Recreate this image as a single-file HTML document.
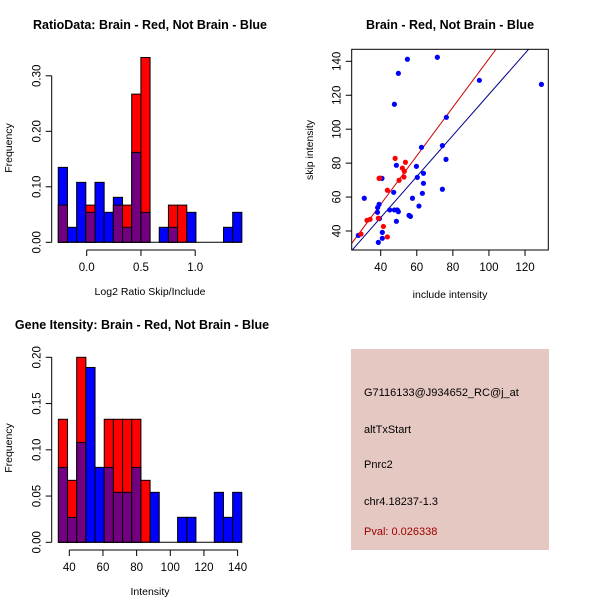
<!DOCTYPE html>
<html><head><meta charset="utf-8">
<style>
html,body{margin:0;padding:0;background:#fff;}
svg{display:block;font-family:"Liberation Sans",sans-serif;}
.t{font-weight:bold;font-size:12.5px;}
.tk{font-size:11.5px;}
.lab{font-size:10.5px;}
</style></head>
<body>
<svg id="c" width="600" height="600" viewBox="0 0 600 600">
<text class="t" x="150" y="29" text-anchor="middle">RatioData: Brain - Red, Not Brain - Blue</text>
<text class="t" x="450" y="29" text-anchor="middle">Brain - Red, Not Brain - Blue</text>
<text class="t" x="142" y="329" text-anchor="middle">Gene Itensity: Brain - Red, Not Brain - Blue</text>
<g>
<rect x="351" y="349" width="198" height="201" fill="#E6C8C2"/>
<text x="364" y="396" font-size="11">G7116133@J934652_RC@j_at</text>
<text x="364" y="433" font-size="11">altTxStart</text>
<text x="364" y="468" font-size="11">Pnrc2</text>
<text x="364" y="505" font-size="11">chr4.18237-1.3</text>
<text x="364" y="535" font-size="11" fill="#A00000">Pval: 0.026338</text>
</g>
</svg>
<script>
// Ratio histogram data
const ratioBreakStart = -0.262;
const ratioBinWidth = 0.0846;
const ratioRed = [0.067,0,0,0.067,0,0,0.067,0.067,0.267,0.333,0,0,0.067,0.067,0,0,0,0,0,0];
const ratioBlue = [0.135,0.027,0.108,0.054,0.108,0.054,0.081,0.027,0.162,0.054,0,0.027,0.027,0,0.054,0,0,0,0.027,0.054];
const ratioXTicks = [0.0,0.5,1.0];
const ratioXTickLabels = ["0.0","0.5","1.0"];
const ratioYTicks = [0,0.1,0.2,0.3];
const ratioYTickLabels = ["0.00","0.10","0.20","0.30"];
// Intensity histogram data
const intBreakStart = 33.5;
const intBinWidth = 5.45;
const intRed = [0.133,0.067,0.2,0,0,0.133,0.133,0.133,0.133,0.067,0,0,0,0,0,0,0,0,0,0];
const intBlue = [0.081,0.027,0.108,0.189,0.081,0.081,0.054,0.054,0.081,0,0.054,0,0,0.027,0.027,0,0,0.054,0.027,0.054];
const intXTicks = [40,60,80,100,120,140];
const intYTicks = [0,0.05,0.1,0.15,0.2];
const intYTickLabels = ["0.00","0.05","0.10","0.15","0.20"];
// Scatter data
const blueInclude = [71.4,54.8,49.8,47.6,94.7,129.1,76.4,62.6,74.2,76.2,48.7,59.8,40.7,60.3,63.7,63.7,74.2,47.2,63.1,30.9,57.6,39.1,38.3,38.2,45,47.6,49.2,49.8,61.2,55.7,56.5,39.3,48.7,40.9,40.9,38.7,27.6];
const blueSkip = [142.4,141.2,132.9,114.7,128.8,126.4,107,89.3,90.3,82.2,78.7,78.1,71,71.6,74,68.1,64.6,62.8,62.2,59.3,59.3,55.7,53.8,51,52.4,52.4,52.4,51.4,54.7,49.2,48.6,47.3,45.7,39.2,35.7,33.3,37.4];
const redInclude = [48,53.7,52,53.1,52.9,50.2,39.1,43.7,38.7,34.1,32.4,29.1,41.5,43.7,39.5];
const redSkip = [82.8,80.5,77.1,75.2,71.8,69.9,71,64,47.5,46.9,46.3,38.2,42.7,36.5,71.2];
const redFit = [-1.5,1.43];
const blueFit = [-0.5,1.21];
const scatterXTicks = [40,60,80,100,120];
const scatterYTicks = [40,60,80,100,120,140];

const NS="http://www.w3.org/2000/svg";
const svg=document.getElementById('c');
function mk(tag,attrs,parent){const e=document.createElementNS(NS,tag);for(const k in attrs)e.setAttribute(k,attrs[k]);(parent||svg).appendChild(e);return e;}
const PURPLE="#730080";

function histogram(opts){
  const g=mk('g',{});
  
  
  const sx=v=>opts.x0px+(v-opts.x0)*opts.kx;
  const sy=v=>opts.y0px-v*opts.ky;
  for(let i=0;i<opts.red.length;i++){
    const a=opts.start+i*opts.bw,b=a+opts.bw;
    const r=opts.red[i],bl=opts.blue[i];
    const mx=Math.max(r,bl),mn=Math.min(r,bl);
    if(mx>0){
      const rc=mk('rect',{x:sx(a),y:sy(mx),width:sx(b)-sx(a),height:sy(0)-sy(mx),fill:r>bl?'#FF0000':'#0000FF',stroke:'#000','stroke-width':1},g);
      
      
    }
    if(mn>0){
      const pc=mk('rect',{x:sx(a),y:sy(mn),width:sx(b)-sx(a),height:sy(0)-sy(mn),fill:PURPLE,stroke:'#000','stroke-width':1},g);
      
      
    }
  }
  const base=mk('line',{x1:sx(opts.start),x2:sx(opts.start+opts.red.length*opts.bw),y1:sy(0),y2:sy(0),stroke:'#000'},g);
  
  
  const ya=mk('g',{},g);
  
  
  mk('line',{x1:opts.yAxisX,x2:opts.yAxisX,y1:sy(opts.yt[0]),y2:sy(opts.yt[opts.yt.length-1]),stroke:'#000'},ya);
  opts.yt.forEach((t,i)=>{
    mk('line',{x1:opts.yAxisX-6,x2:opts.yAxisX,y1:sy(t),y2:sy(t),stroke:'#000'},ya);
    const tx=mk('text',{x:0,y:0,'text-anchor':'middle','class':'tk',transform:`translate(${opts.yAxisX-11},${sy(t)}) rotate(-90)`},ya);
    tx.textContent=opts.ytl[i];
    
    
  });
  const xa=mk('g',{},g);
  
  
  mk('line',{x1:sx(opts.xt[0]),x2:sx(opts.xt[opts.xt.length-1]),y1:opts.xAxisY,y2:opts.xAxisY,stroke:'#000'},xa);
  opts.xt.forEach((t,i)=>{
    mk('line',{x1:sx(t),x2:sx(t),y1:opts.xAxisY,y2:opts.xAxisY+6,stroke:'#000'},xa);
    const tx=mk('text',{x:sx(t),y:opts.xAxisY+21,'text-anchor':'middle','class':'tk'},xa);
    tx.textContent=opts.xtl[i];
    
    
  });
  const xl=mk('text',{x:150,y:opts.xAxisY+45,'text-anchor':'middle','class':'lab'},g);
  xl.textContent=opts.xlabel;
  
  
  const yl=mk('text',{x:0,y:0,'text-anchor':'middle','class':'lab',transform:`translate(12,${opts.ylabelY}) rotate(-90)`},g);
  yl.textContent='Frequency';
  
  
}

histogram({name:'ratio-histogram',start:ratioBreakStart,bw:ratioBinWidth,red:ratioRed,blue:ratioBlue,
  x0:0,x0px:86.7,kx:108.5,y0px:242.3,ky:555,yAxisX:51.7,xAxisY:250,
  xt:ratioXTicks,xtl:ratioXTickLabels,yt:ratioYTicks,ytl:ratioYTickLabels,xlabel:'Log2 Ratio Skip/Include',ylabelY:148});
histogram({name:'intensity-histogram',start:intBreakStart,bw:intBinWidth,red:intRed,blue:intBlue,
  x0:40,x0px:69.3,kx:1.683,y0px:542.3,ky:925,yAxisX:51.7,xAxisY:550,
  xt:intXTicks,xtl:intXTicks.map(String),yt:intYTicks,ytl:intYTickLabels,xlabel:'Intensity',ylabelY:448});

(function(){
  const L=351.7,R=548.3,T=49.3,B=250;
  const sx=v=>380.7+(v-40)*1.804;
  const sy=v=>231-(v-40)*1.697;
  const g=mk('g',{});
  
  
  const defs=mk('defs',{},g);
  const cp=mk('clipPath',{id:'sc'},defs);
  mk('rect',{x:L,y:T,width:R-L,height:B-T},cp);
  const lines=mk('g',{'clip-path':'url(#sc)'},g);
  [[redFit,'#CC0000','red-fit-line'],[blueFit,'#00008B','blue-fit-line']].forEach(([f,c,n])=>{
    const xa=0,xb=200;
    const l=mk('line',{x1:sx(xa),y1:sy(f[0]+f[1]*xa),x2:sx(xb),y2:sy(f[0]+f[1]*xb),stroke:c,'stroke-width':1},lines);
    
    
  });
  blueInclude.forEach((v,i)=>{
    const c=mk('circle',{cx:sx(v),cy:sy(blueSkip[i]),r:2.6,fill:'#0000FF'},g);
    
    
  });
  redInclude.forEach((v,i)=>{
    const c=mk('circle',{cx:sx(v),cy:sy(redSkip[i]),r:2.6,fill:'#FF0000'},g);
    
    
  });
  const box=mk('rect',{x:L,y:T,width:R-L,height:B-T,fill:'none',stroke:'#000'},g);
  
  
  scatterXTicks.forEach(t=>{
    mk('line',{x1:sx(t),x2:sx(t),y1:B,y2:B+6,stroke:'#000'},g);
    const tx=mk('text',{x:sx(t),y:B+21,'text-anchor':'middle','class':'tk'},g);
    tx.textContent=String(t);
    
    
  });
  scatterYTicks.forEach(t=>{
    mk('line',{x1:L-6,x2:L,y1:sy(t),y2:sy(t),stroke:'#000'},g);
    const tx=mk('text',{x:0,y:0,'text-anchor':'middle','class':'tk',transform:`translate(${L-11},${sy(t)}) rotate(-90)`},g);
    tx.textContent=String(t);
    
    
  });
  const xl=mk('text',{x:450,y:298,'text-anchor':'middle','class':'lab'},g);
  xl.textContent='include intensity';
  
  
  const yl=mk('text',{x:0,y:0,'text-anchor':'middle','class':'lab',transform:'translate(313,150) rotate(-90)'},g);
  yl.textContent='skip intensity';
  
  
})();
</script>
</body></html>
